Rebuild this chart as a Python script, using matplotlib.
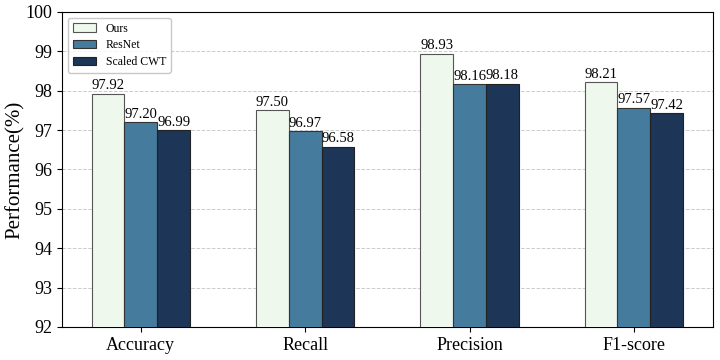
import matplotlib
matplotlib.use("Agg")
import matplotlib.pyplot as plt
import numpy as np

categories = ["Accuracy", "Recall", "Precision", "F1-score"]
series_names = ["Ours", "ResNet", "Scaled CWT"]
ours = [97.92, 97.50, 98.93, 98.21]
resnet = [97.20, 96.97, 98.16, 97.57]
scaled_cwt = [96.99, 96.58, 98.18, 97.42]
yticks = [92, 93, 94, 95, 96, 97, 98, 99, 100]

plt.rcParams['font.family'] = ['Liberation Serif', 'DejaVu Serif']

fig = plt.figure(figsize=(7.2, 3.6), dpi=100)
ax = fig.add_axes([0.086, 0.092, 0.904, 0.875])

colors = ["#EEF8EC", "#457B9D", "#1D3557"]
edges = ["#555555", "#333333", "#222222"]
x = np.arange(len(categories))
w = 0.2
for i, (name, vals) in enumerate(zip(series_names, [ours, resnet, scaled_cwt])):
    bars = ax.bar(x + (i - 1) * w, vals, w, label=name, color=colors[i],
                  edgecolor=edges[i], linewidth=0.8, zorder=3)
    for b, v in zip(bars, vals):
        ax.text(b.get_x() + b.get_width() / 2, v + 0.04, f"{v:.2f}",
                ha="center", va="bottom", fontsize=10.5, zorder=4)

ax.set_ylim(92, 100)
ax.set_yticks(yticks)
ax.set_xticks(x)
ax.set_xticklabels(categories, fontsize=13)
ax.tick_params(axis='y', labelsize=13)
ax.set_ylabel("Performance(%)", fontsize=15, labelpad=0)
ax.yaxis.grid(True, linestyle='--', color='#cccccc', linewidth=0.7, zorder=0)
ax.set_axisbelow(True)
ax.legend(loc="upper left", fontsize=8.5, frameon=True, edgecolor='#bbbbbb',
          fancybox=True, labelspacing=0.4)

fig.savefig("out.png", dpi=100)
